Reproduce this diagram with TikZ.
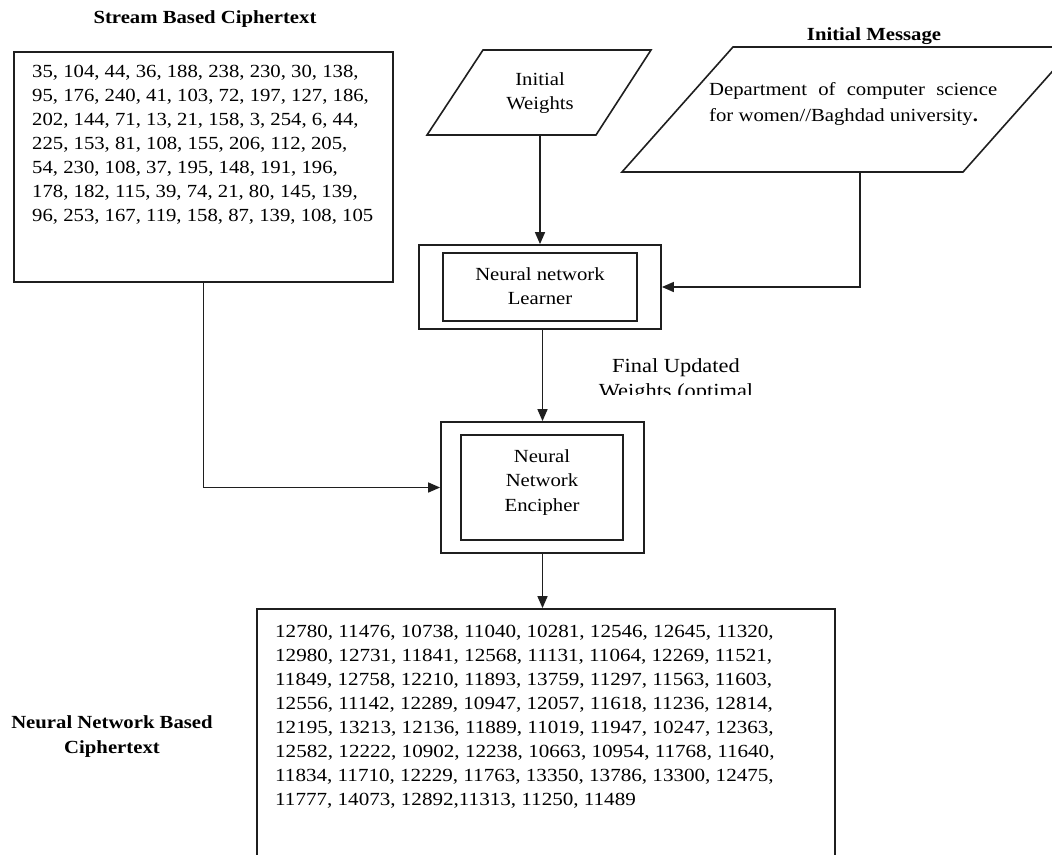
\documentclass[tikz,border=0pt]{standalone}
\usepackage{fontspec}
\setmainfont{Liberation Serif}[FakeStretch=1.12]
\usetikzlibrary{arrows.meta}
\begin{document}
\begin{tikzpicture}[x=1pt,y=-1pt,
  ink/.style={draw=black!88},
  frame/.style={ink, line width=1.8pt, inner sep=0pt, fill=none},
  shapeline/.style={ink, line width=1.6pt, line join=miter},
  arr/.style={ink, line width=1.6pt, -{Triangle[length=12pt,width=10pt]}},
  plain/.style={draw=none, inner sep=0pt, align=center, font=\fontsize{18.5}{24.5}\selectfont},
  body/.style={draw=none, inner sep=0pt, align=left, font=\fontsize{18.5}{24}\selectfont},
  heading/.style={draw=none, inner sep=0pt, align=center, font=\bfseries\fontsize{18.5}{25}\selectfont}]

\useasboundingbox (0,0) rectangle (1052,854);
\fill[white] (0,0) rectangle (1052,854);
\clip (0,0) rectangle (1052,854);

% ---- stream based ciphertext (input block) ----
\node[heading, anchor=north] (streamhead) at (205,10.5) {Stream Based Ciphertext};
\node[frame, minimum width=379pt, minimum height=230pt] (stream) at (203.5,167) {};
\node[body, anchor=north west] (streamtxt) at (32,64.5)
  {35, 104, 44, 36, 188, 238, 230, 30, 138,\\
   95, 176, 240, 41, 103, 72, 197, 127, 186,\\
   202, 144, 71, 13, 21, 158, 3, 254, 6, 44,\\
   225, 153, 81, 108, 155, 206, 112, 205,\\
   54, 230, 108, 37, 195, 148, 191, 196,\\
   178, 182, 115, 39, 74, 21, 80, 145, 139,\\
   96, 253, 167, 119, 158, 87, 139, 108, 105};

% ---- initial weights (parallelogram) ----
\draw[shapeline] (483,50) -- (651,50) -- (596,135) -- (427,135) -- cycle;
\coordinate (wts) at (540,135);
\node[plain, anchor=north] (wtstxt) at (540,72.4) {Initial\\Weights};

% ---- initial message (parallelogram) ----
\node[heading, anchor=north] (msghead) at (874,27.5) {Initial Message};
\draw[shapeline] (733,47) -- (1074,47) -- (963,172) -- (622,172) -- cycle;
\coordinate (msg) at (860,172);
\node[draw=none, inner sep=0pt, anchor=north west, text width=288pt, align=justify,
      font=\fontsize{18.5}{26}\selectfont] (msgtxt) at (709,82.4)
  {Department of computer science for women//Baghdad university\textbf{.}};

% ---- neural network learner (double frame) ----
\node[frame, minimum width=242pt, minimum height=84pt] (lrnout) at (540,287) {};
\node[frame, line width=1.6pt, minimum width=194pt, minimum height=68pt] (lrnin) at (540,287) {};
\node[plain, anchor=north] (lrntxt) at (540,267.4) {Neural network\\Learner};

% ---- neural network encipher (double frame) ----
\node[frame, minimum width=203pt, minimum height=131pt] (encout) at (542.5,487.5) {};
\node[frame, line width=1.6pt, minimum width=162pt, minimum height=105pt] (encin) at (542,487.5) {};
\node[plain, anchor=north] (enctxt) at (542,449.4) {Neural\\Network\\Encipher};

% ---- label on the learner -> encipher link (cut off below) ----
\begin{scope}
  \clip (590,340) rectangle (770,394);
  \node[plain, anchor=north, font=\fontsize{20}{25}\selectfont] (finaltxt) at (676,358.5)
    {Final Updated\\Weights (optimal};
\end{scope}

% ---- neural network based ciphertext (output block) ----
\node[frame, minimum width=578pt, minimum height=271pt] (result) at (546,744.5) {};
\node[body, anchor=north west, font=\addfontfeature{FakeStretch=1.14}\fontsize{18.5}{24}\selectfont]
  (resulttxt) at (275,624.5)
  {12780, 11476, 10738, 11040, 10281, 12546, 12645, 11320,\\
   12980, 12731, 11841, 12568, 11131, 11064, 12269, 11521,\\
   11849, 12758, 12210, 11893, 13759, 11297, 11563, 11603,\\
   12556, 11142, 12289, 10947, 12057, 11618, 11236, 12814,\\
   12195, 13213, 12136, 11889, 11019, 11947, 10247, 12363,\\
   12582, 12222, 10902, 12238, 10663, 10954, 11768, 11640,\\
   11834, 11710, 12229, 11763, 13350, 13786, 13300, 12475,\\
   11777, 14073, 12892,11313, 11250, 11489};
\node[heading, anchor=north] (resulthead) at (112,715.5) {Neural Network Based\\Ciphertext};

% ---- connectors ----
\draw[arr] (wts) -- (wts |- lrnout.north);
\draw[arr] (msg) |- (lrnout.east);
\draw[arr] (encout.north |- lrnout.south) -- (encout.north);
\draw[arr] (stream.south) |- (encout.west);
\draw[arr] (encout.south) -- (encout.south |- result.north);
\end{tikzpicture}
\end{document}
